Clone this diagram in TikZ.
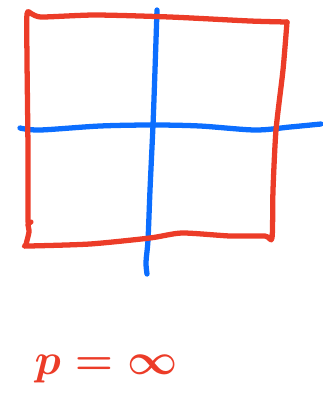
\documentclass[tikz,border=0pt]{standalone}
\usepackage{tikz}
\usetikzlibrary{positioning}
\definecolor{inkred}{RGB}{236,60,40}
\definecolor{inkblue}{RGB}{12,110,255}
\tikzset{
  pen/.style={line width=3pt, line cap=round, line join=round},
}
\begin{document}
\begin{tikzpicture}[x=0.02cm, y=-0.02cm]
  \useasboundingbox (0,0) rectangle (322,403);
  % axes
  \draw[pen, inkblue] plot[smooth, tension=0.5] coordinates {(20,128) (40,130) (100,126) (153,125) (200,126) (255,130) (290,127) (321,124)};
  \draw[pen, inkblue] plot[smooth, tension=0.5] coordinates {(157,10) (155,70) (153,125) (150,190) (148,240) (146,262) (147,274)};
  % unit ball, p = infinity
  \draw[pen, inkred] plot[smooth, tension=0.4] coordinates {(28,222) (28,150) (27,60) (27,14) (32,14) (42,17) (95,15) (170,17) (250,21) (287,22)};
  \draw[pen, inkred] plot[smooth, tension=0.4] coordinates {(287,22) (283,70) (276,130) (273,190) (272,238) (265,236) (230,236) (182,233) (150,238) (90,244) (28,246) (26,245) (29,232) (28,224) (31,222)};
  \node[inkred, font=\fontsize{34}{36}\selectfont\boldmath] (plabel) at (106,369) {$p = \infty$};
\end{tikzpicture}
\end{document}
